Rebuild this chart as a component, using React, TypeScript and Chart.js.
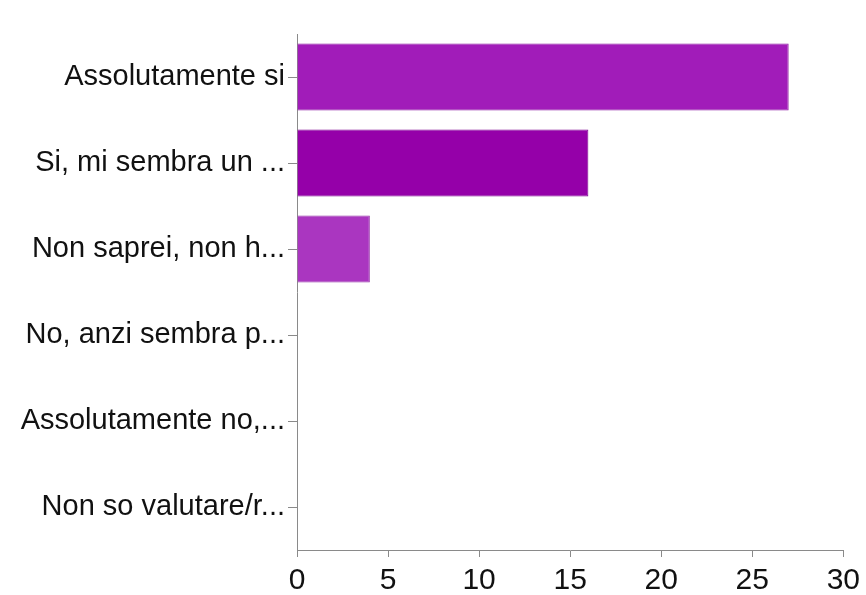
import React, { useEffect, useRef } from "react";
import { Chart, registerables } from "chart.js";

Chart.register(...registerables);

const categories = [
  "Assolutamente si",
  "Si, mi sembra un ...",
  "Non saprei, non h...",
  "No, anzi sembra p...",
  "Assolutamente no,...",
  "Non so valutare/r...",
];
const values = [27, 16, 4, 0, 0, 0];
const barColors = ["#a11cb9", "#9500a9", "#aa36c0", "#a11cb9", "#a11cb9", "#a11cb9"];
const borderColors = ["#8d1aa2", "#7e0090", "#9530a8", "#8d1aa2", "#8d1aa2", "#8d1aa2"];
const xTicks = [0, 5, 10, 15, 20, 25, 30];

const FONT = "'Liberation Sans', Arial, Helvetica, sans-serif";

export default function App() {
  const ref = useRef<HTMLCanvasElement | null>(null);
  useEffect(() => {
    if (!ref.current) return;
    const chart = new Chart(ref.current, {
      type: "bar",
      data: {
        labels: categories,
        datasets: [
          {
            data: values,
            backgroundColor: barColors,
            borderColor: borderColors,
            borderWidth: 1,
            categoryPercentage: 1,
            barPercentage: 0.78,
          },
        ],
      },
      options: {
        indexAxis: "y",
        animation: false,
        responsive: false,
        maintainAspectRatio: false,
        layout: { padding: { top: 34, right: 22, left: 0, bottom: 0 } },
        plugins: { legend: { display: false }, tooltip: { enabled: false }, title: { display: false } },
        scales: {
          x: {
            type: "linear",
            min: 0,
            max: 30,
            afterBuildTicks: (axis: any) => {
              axis.ticks = xTicks.map((v) => ({ value: v }));
            },
            afterFit: (axis: any) => {
              axis.height = 45;
            },
            grid: {
              drawOnChartArea: false,
              drawTicks: true,
              tickLength: 7,
              color: "#8a8a8a",
              lineWidth: 1,
            },
            border: { color: "#8a8a8a", width: 1 },
            ticks: {
              color: "#111111",
              font: { family: FONT, size: 30 },
              padding: 6,
              maxRotation: 0,
            },
          },
          y: {
            type: "category",
            offset: true,
            afterFit: (axis: any) => {
              axis.width = 297;
            },
            grid: {
              offset: false,
              drawOnChartArea: false,
              drawTicks: true,
              tickLength: 9,
              color: "#8a8a8a",
              lineWidth: 1,
            },
            border: { color: "#8a8a8a", width: 1 },
            ticks: {
              color: "#111111",
              font: { family: FONT, size: 29 },
              padding: 3,
              autoSkip: false,
            },
          },
        },
      },
    });
    return () => chart.destroy();
  }, []);
  return (
    <div style={{ position: "fixed", left: 0, top: 0, width: 866, height: 595, background: "#fff" }}>
      <canvas ref={ref} width={866} height={595} style={{ width: 866, height: 595, display: "block" }} />
    </div>
  );
}
